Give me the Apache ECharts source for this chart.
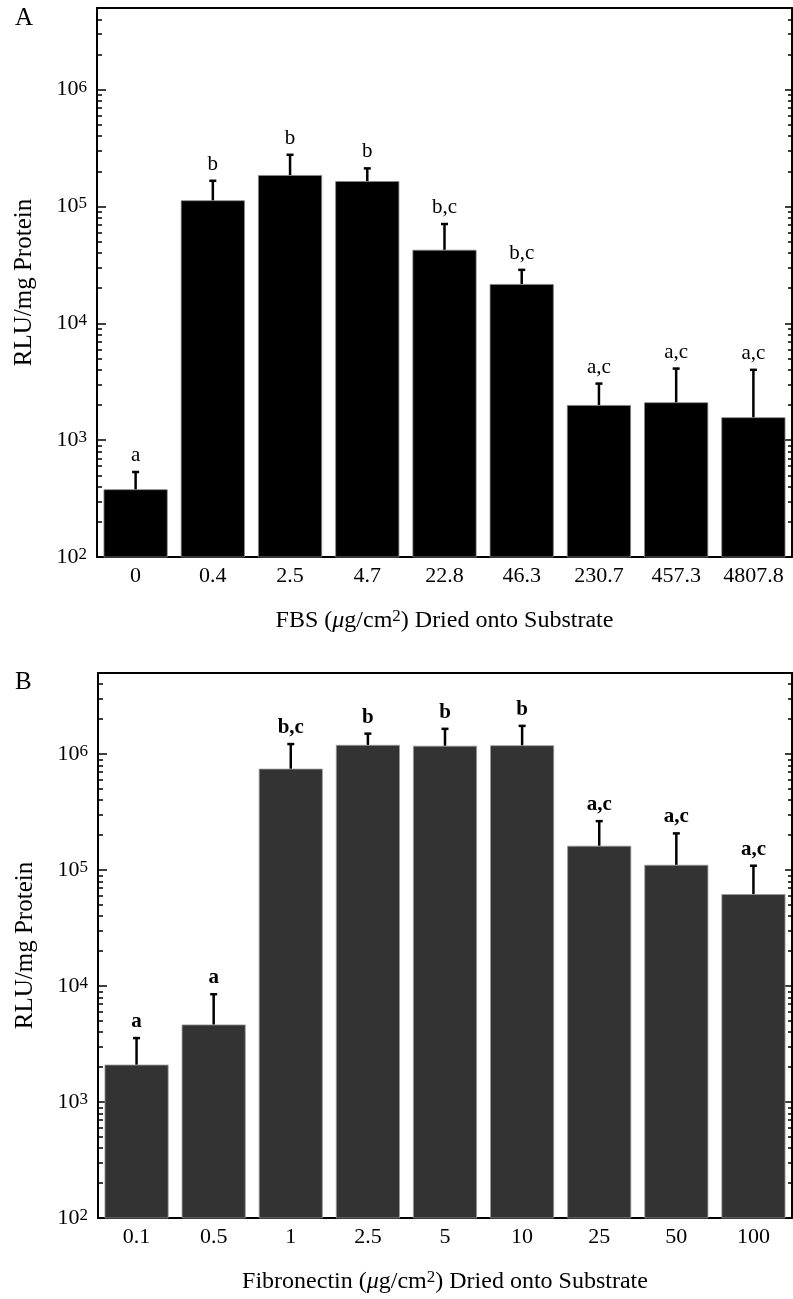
<!DOCTYPE html>
<html><head><meta charset="utf-8">
<script src="https://cdn.jsdelivr.net/npm/echarts@6/dist/echarts.min.js"></script>
<style>html,body{margin:0;padding:0;background:#fff}#c{width:793px;height:1299px}</style>
</head><body><div id="c"></div>
<script>
// ---- data ----
const catsA = ['0', '0.4', '2.5', '4.7', '22.8', '46.3', '230.7', '457.3', '4807.8'];
const valsA = [380, 113000, 186000, 165000, 42600, 21700, 2000, 2110, 1570];
const errA  = [534, 166000, 277000, 212000, 70800, 28700, 3050, 4100, 4000];
const sigA  = ['a', 'b', 'b', 'b', 'b,c', 'b,c', 'a,c', 'a,c', 'a,c'];

const catsB = ['0.1', '0.5', '1', '2.5', '5', '10', '25', '50', '100'];
const valsB = [2100, 4660, 748000, 1200000, 1180000, 1190000, 162000, 111000, 62000];
const errB  = [3560, 8500, 1220000, 1500000, 1650000, 1750000, 264000, 207000, 109000];
const sigB  = ['a', 'a', 'b,c', 'b', 'b', 'b', 'a,c', 'a,c', 'a,c'];

const majorTicks = [100, 1000, 10000, 100000, 1000000];
const minorTicks = [200, 300, 400, 500, 600, 700, 800, 900,
  2000, 3000, 4000, 5000, 6000, 7000, 8000, 9000,
  20000, 30000, 40000, 50000, 60000, 70000, 80000, 90000,
  200000, 300000, 400000, 500000, 600000, 700000, 800000, 900000,
  2000000, 3000000, 4000000];
const yMin = 100, yMax = 5000000;

const FONT = 'Liberation Serif';
const chart = echarts.init(document.getElementById('c'), null, {renderer: 'canvas'});

function xAxes(grid, cats, name, nameRich) {
  return [
    {
      type: 'category', gridIndex: grid, position: 'bottom', data: cats,
      axisLine: {onZero: false, lineStyle: {color: '#000', width: 2}},
      axisTick: {inside: true, length: 6, lineStyle: {color: '#000', width: 1.5}},
      axisLabel: {color: '#000', fontFamily: FONT, fontSize: 22, margin: 8, interval: 0},
      name: name, nameLocation: 'middle', nameGap: 51,
      nameTextStyle: {rich: nameRich}
    },
    {
      type: 'category', gridIndex: grid, position: 'top', data: cats,
      axisLine: {onZero: false, lineStyle: {color: '#000', width: 2}},
      axisTick: {inside: true, length: 8, lineStyle: {color: '#000', width: 1.5}},
      axisLabel: {show: false}
    }
  ];
}

const labelRich = {
  b: {fontSize: 22, fontFamily: FONT, color: '#000', lineHeight: 22, verticalAlign: 'bottom'},
  s: {fontSize: 17, fontFamily: FONT, color: '#000', lineHeight: 17, verticalAlign: 'top', padding: [0, 0, 10, 0]}
};

function yAxes(grid) {
  const base = {type: 'log', logBase: 10, gridIndex: grid, min: yMin, max: yMax, splitLine: {show: false}};
  return [
    Object.assign({}, base, {
      position: 'left',
      axisLine: {show: true, onZero: false, lineStyle: {color: '#000', width: 2}},
      axisTick: {show: true, inside: true, length: 9, customValues: majorTicks, lineStyle: {color: '#000', width: 1.5}},
      axisLabel: {customValues: majorTicks, margin: 10,
        formatter: v => '{b|10}{s|' + Math.round(Math.log10(v)) + '}', rich: labelRich},
      name: 'RLU/mg Protein', nameLocation: 'middle', nameRotate: 90, nameGap: 60,
      nameTextStyle: {color: '#000', fontFamily: FONT, fontSize: 25}
    }),
    Object.assign({}, base, {
      position: 'left',
      axisLine: {show: false},
      axisTick: {show: true, inside: true, length: 5, customValues: minorTicks, lineStyle: {color: '#000', width: 1.5}},
      axisLabel: {show: false}
    }),
    Object.assign({}, base, {
      position: 'right',
      axisLine: {show: true, onZero: false, lineStyle: {color: '#000', width: 2}},
      axisTick: {show: true, inside: true, length: 7, customValues: majorTicks, lineStyle: {color: '#000', width: 1.5}},
      axisLabel: {show: false}
    }),
    Object.assign({}, base, {
      position: 'right',
      axisLine: {show: false},
      axisTick: {show: true, inside: true, length: 4, customValues: minorTicks, lineStyle: {color: '#000', width: 1.5}},
      axisLabel: {show: false}
    })
  ];
}

function nameRich() {
  return {
    t: {fontSize: 24, fontFamily: FONT, color: '#000', lineHeight: 25, verticalAlign: 'bottom'},
    i: {fontSize: 24, fontFamily: FONT, fontStyle: 'italic', color: '#000', lineHeight: 25, verticalAlign: 'bottom'},
    s: {fontSize: 17, fontFamily: FONT, color: '#000', lineHeight: 17, verticalAlign: 'top', padding: [0, 0, 12, 0]}
  };
}

function errRender(sig, bold) {
  return function (params, api) {
    const i = api.value(0);
    const p0 = api.coord([i, api.value(1)]);
    const p1 = api.coord([i, api.value(2)]);
    const cap = 3.5;
    return {
      type: 'group',
      children: [
        {type: 'line', shape: {x1: p0[0], y1: p0[1], x2: p1[0], y2: p1[1]}, style: {stroke: '#000', lineWidth: 2.5}},
        {type: 'line', shape: {x1: p1[0] - cap, y1: p1[1], x2: p1[0] + cap, y2: p1[1]}, style: {stroke: '#000', lineWidth: 2.5}},
        {type: 'text', x: p1[0], y: p1[1] - 6, style: {
          text: sig[i], fill: '#000', fontFamily: FONT, fontSize: 21,
          fontWeight: bold ? 'bold' : 'normal', align: 'center', verticalAlign: 'bottom'}}
      ]
    };
  };
}

const option = {
  backgroundColor: '#fff',
  animation: false,
  grid: [
    {left: 97, top: 8, width: 695, height: 549},
    {left: 98, top: 673, width: 694, height: 547}
  ],
  xAxis: [].concat(
    xAxes(0, catsA, '{t|FBS (}{i|μ}{t|g/cm}{s|2}{t|) Dried onto Substrate}', nameRich()),
    xAxes(1, catsB, '{t|Fibronectin (}{i|μ}{t|g/cm}{s|2}{t|) Dried onto Substrate}', nameRich())
  ),
  yAxis: [].concat(yAxes(0), yAxes(1)),
  graphic: [
    {type: 'text', left: 15, top: 6, style: {text: 'A', fontFamily: FONT, fontSize: 25, fill: '#000'}},
    {type: 'text', left: 15, top: 670, style: {text: 'B', fontFamily: FONT, fontSize: 25, fill: '#000'}}
  ],
  series: [
    {type: 'bar', xAxisIndex: 0, yAxisIndex: 0, data: valsA, barCategoryGap: '17%',
      itemStyle: {color: '#000', borderColor: '#888', borderWidth: 0.8}},
    {type: 'custom', xAxisIndex: 0, yAxisIndex: 0, z: 5, renderItem: errRender(sigA, false),
      encode: {x: 0, y: [1, 2]}, data: valsA.map((v, i) => [i, v, errA[i]])},
    {type: 'bar', xAxisIndex: 2, yAxisIndex: 4, data: valsB, barCategoryGap: '17%',
      itemStyle: {color: '#333', borderColor: '#999', borderWidth: 0.8}},
    {type: 'custom', xAxisIndex: 2, yAxisIndex: 4, z: 5, renderItem: errRender(sigB, true),
      encode: {x: 0, y: [1, 2]}, data: valsB.map((v, i) => [i, v, errB[i]])}
  ]
};
chart.setOption(option);
</script>
</body></html>
